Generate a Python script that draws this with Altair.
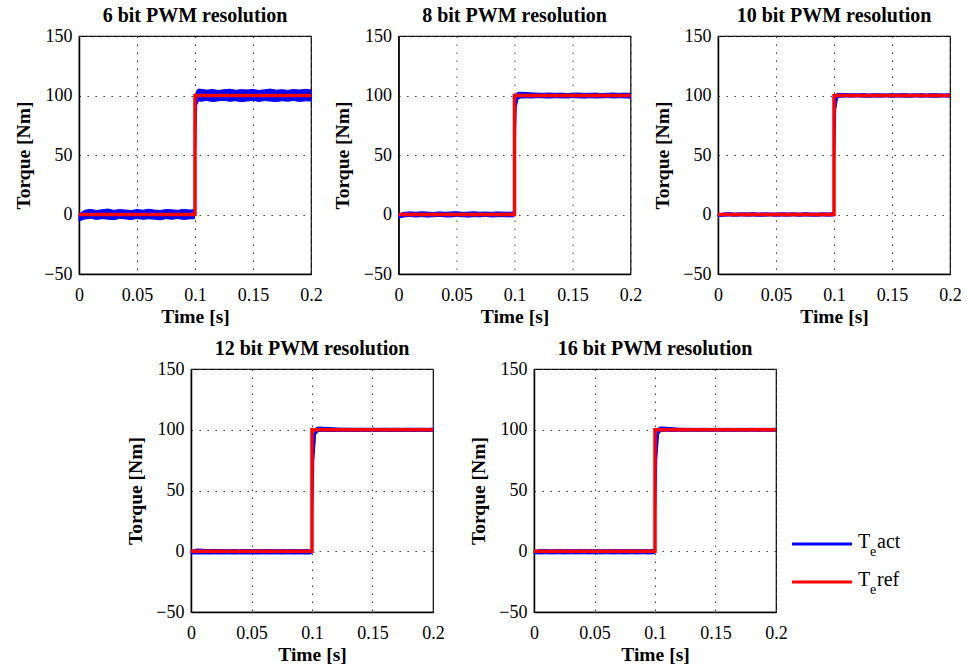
import altair as alt
import pandas as pd

FONT = "Liberation Serif"

titles = ["6 bit PWM resolution", "8 bit PWM resolution", "10 bit PWM resolution",
          "12 bit PWM resolution", "16 bit PWM resolution"]
x_ticks = [0, 0.05, 0.1, 0.15, 0.2]
y_ticks = [-50, 0, 50, 100, 150]

# sample times of the measured torque envelope [s]
t = [0.000, 0.005, 0.010, 0.015, 0.020, 0.025, 0.030, 0.035, 0.040, 0.045,
     0.050, 0.055, 0.060, 0.065, 0.070, 0.075, 0.080, 0.085, 0.090, 0.095,
     0.0995, 0.1005, 0.1015, 0.103,
     0.105, 0.110, 0.115, 0.120, 0.125, 0.130, 0.135, 0.140, 0.145, 0.150,
     0.155, 0.160, 0.165, 0.170, 0.175, 0.180, 0.185, 0.190, 0.195, 0.200]

# lower / upper envelope of T_e act [Nm] for each PWM resolution
act_lo_6 = [-5.5, -3.8, -3.2, -4.1, -3.5, -3.9, -4.4, -3.3, -3.7, -4.2, -3.4, -4.0, -3.6, -3.9, -4.5, -3.5, -4.0, -3.4, -4.1, -3.7,
            -3.6, 55.0, 92.0, 95.5,
            95.2, 95.8, 94.9, 95.5, 96.0, 95.1, 95.6, 94.8, 95.4, 95.9, 95.0, 95.7, 95.3, 94.9, 95.6, 95.2, 95.8, 95.0, 95.5, 95.3]
act_hi_6 = [0.5, 3.6, 4.3, 3.4, 4.0, 4.6, 3.5, 4.1, 3.8, 3.3, 4.2, 3.6, 4.4, 3.7, 3.4, 4.1, 3.9, 3.5, 4.3, 3.8,
            4.0, 98.0, 104.0, 105.5,
            105.2, 104.5, 105.0, 104.3, 104.8, 105.3, 104.4, 104.9, 104.6, 105.1, 104.2, 104.8, 105.4, 104.5, 104.9, 104.3, 105.0, 104.6, 105.2, 104.7]

act_lo_8 = [-3.0, -2.0, -1.7, -2.1, -1.8, -2.2, -1.9, -1.6, -2.0, -2.1, -1.7, -1.9, -2.2, -1.8, -2.0, -1.6, -2.1, -1.9, -1.8, -2.0,
            -1.9, 50.0, 90.0, 97.0,
            97.8, 98.0, 97.9, 98.2, 98.0, 97.8, 98.1, 98.0, 97.9, 98.2, 98.0, 97.8, 98.1, 97.9, 98.0, 98.2, 97.9, 98.1, 98.0, 97.8]
act_hi_8 = [0.5, 1.8, 2.2, 1.9, 2.3, 2.0, 1.7, 2.2, 1.9, 2.1, 2.4, 1.8, 2.0, 2.3, 1.9, 2.1, 1.8, 2.2, 2.0, 1.9,
            2.1, 97.0, 101.5, 102.5,
            102.8, 102.5, 102.2, 102.0, 101.9, 102.1, 101.8, 102.0, 101.7, 101.9, 102.1, 101.8, 101.9, 102.0, 101.7, 101.9, 102.1, 101.8, 102.0, 101.9]

act_lo_10 = [-1.8, -1.4, -1.3, -1.5, -1.2, -1.4, -1.3, -1.5, -1.4, -1.2, -1.5, -1.3, -1.4, -1.2, -1.5, -1.3, -1.4, -1.5, -1.2, -1.4,
             -1.3, 45.0, 88.0, 97.5,
             98.5, 98.7, 98.6, 98.8, 98.6, 98.5, 98.7, 98.6, 98.8, 98.5, 98.7, 98.6, 98.5, 98.8, 98.6, 98.7, 98.5, 98.6, 98.8, 98.6]
act_hi_10 = [0.5, 1.3, 1.5, 1.2, 1.4, 1.3, 1.5, 1.2, 1.4, 1.3, 1.2, 1.5, 1.3, 1.4, 1.2, 1.5, 1.3, 1.2, 1.4, 1.3,
             1.4, 96.0, 100.8, 101.8,
             101.8, 101.6, 101.5, 101.4, 101.6, 101.3, 101.5, 101.4, 101.3, 101.5, 101.4, 101.6, 101.3, 101.4, 101.5, 101.3, 101.6, 101.4, 101.3, 101.5]

act_lo_12 = [-2.2, -2.3, -2.2, -2.3, -2.2, -2.3, -2.2, -2.3, -2.2, -2.3, -2.2, -2.3, -2.2, -2.3, -2.2, -2.3, -2.2, -2.3, -2.2, -2.3,
             -2.2, 30.0, 75.0, 96.0,
             98.6, 98.7, 98.6, 98.7, 98.6, 98.7, 98.6, 98.7, 98.6, 98.7, 98.6, 98.7, 98.6, 98.7, 98.6, 98.7, 98.6, 98.7, 98.6, 98.7]
act_hi_12 = [0.5, 1.9, 1.6, 1.4, 1.5, 1.4, 1.3, 1.4, 1.3, 1.4, 1.3, 1.4, 1.3, 1.4, 1.3, 1.4, 1.3, 1.4, 1.3, 1.4,
             1.3, 85.0, 97.0, 101.5,
             102.2, 102.0, 101.8, 101.5, 101.3, 101.3, 101.2, 101.3, 101.2, 101.3, 101.2, 101.3, 101.2, 101.3, 101.2, 101.3, 101.2, 101.3, 101.2, 101.3]

act_lo_16 = [-2.1, -2.2, -2.1, -2.2, -2.1, -2.2, -2.1, -2.2, -2.1, -2.2, -2.1, -2.2, -2.1, -2.2, -2.1, -2.2, -2.1, -2.2, -2.1, -2.2,
             -2.1, 30.0, 76.0, 96.5,
             98.7, 98.8, 98.7, 98.8, 98.7, 98.8, 98.7, 98.8, 98.7, 98.8, 98.7, 98.8, 98.7, 98.8, 98.7, 98.8, 98.7, 98.8, 98.7, 98.8]
act_hi_16 = [0.5, 1.5, 1.3, 1.2, 1.3, 1.2, 1.3, 1.2, 1.3, 1.2, 1.3, 1.2, 1.3, 1.2, 1.3, 1.2, 1.3, 1.2, 1.3, 1.2,
             1.3, 86.0, 97.5, 101.8,
             102.3, 102.0, 101.6, 101.3, 101.2, 101.2, 101.1, 101.2, 101.1, 101.2, 101.1, 101.2, 101.1, 101.2, 101.1, 101.2, 101.1, 101.2, 101.1, 101.2]

act_lo = [act_lo_6, act_lo_8, act_lo_10, act_lo_12, act_lo_16]
act_hi = [act_hi_6, act_hi_8, act_hi_10, act_hi_12, act_hi_16]

# reference torque (step)
t_ref = [0.0, 0.1, 0.2]
ref = [0.0, 100.0, 100.0]

legend_names = ["act", "ref"]
legend_colors = ["#0000FF", "#FF0000"]

BLUE = "#0000FF"
RED = "#FF0000"

xscale = alt.Scale(domain=[0, 0.2], nice=False, zero=False)
yscale = alt.Scale(domain=[-50, 150], nice=False, zero=False)

common_axis = dict(
    grid=True, gridDash=[1.5, 6.5], gridColor="#444444", gridWidth=1,
    ticks=False, tickSize=0, labelFlush=False,
    domainColor="black", domainWidth=1.5,
    labelFont=FONT, labelFontSize=18, labelColor="black",
    titleFont=FONT, titleFontSize=19.5, titleFontWeight="bold", titleColor="black",
)

xaxis = alt.Axis(values=x_ticks, format="~g", title="Time [s]",
                 labelPadding=12, titlePadding=3, **common_axis)
yaxis = alt.Axis(values=y_ticks, format="d", title="Torque [Nm]",
                 labelPadding=7, minExtent=36, maxExtent=36, titlePadding=10,
                 **common_axis)


def panel(i, w, h, with_legend=False):
    df = pd.DataFrame({"t": t, "lo": act_lo[i], "hi": act_hi[i]})
    dref = pd.DataFrame({"t": t_ref, "v": ref})
    area = alt.Chart(df).mark_area(color=BLUE, stroke=BLUE, strokeWidth=1, opacity=1).encode(
        x=alt.X("t:Q", scale=xscale, axis=xaxis),
        y=alt.Y("lo:Q", scale=yscale, axis=yaxis),
        y2="hi:Q",
    )
    line = alt.Chart(dref).mark_line(color=RED, strokeWidth=3.5, interpolate="step-after").encode(
        x=alt.X("t:Q", scale=xscale),
        y=alt.Y("v:Q", scale=yscale),
    )
    layers = [area, line]
    if with_legend:
        for k, (name, col) in enumerate(zip(legend_names, legend_colors)):
            yy = 175 + 38 * k
            ld = pd.DataFrame({"name": [name]})
            layers.append(alt.Chart(ld).mark_rule(color=col, strokeWidth=3).encode(
                x=alt.value(258), x2=alt.value(318), y=alt.value(yy)))
            layers.append(alt.Chart(ld).mark_text(font=FONT, fontSize=20, align="left",
                                                  baseline="alphabetic", color="black").encode(
                x=alt.value(324), y=alt.value(yy + 4), text=alt.value("T")))
            layers.append(alt.Chart(ld).mark_text(font=FONT, fontSize=14, align="left",
                                                  baseline="alphabetic", color="black").encode(
                x=alt.value(336), y=alt.value(yy + 12), text=alt.value("e")))
            layers.append(alt.Chart(ld).mark_text(font=FONT, fontSize=20, align="left",
                                                  baseline="alphabetic", color="black").encode(
                x=alt.value(343), y=alt.value(yy + 4), text="name:N"))
    return alt.layer(*layers).properties(
        width=w, height=h,
        title=alt.TitleParams(titles[i], font=FONT, fontSize=20, fontWeight="bold",
                              color="black", anchor="middle", frame="group",
                              baseline="alphabetic", offset=-15),
    )


spacer = alt.Chart(pd.DataFrame({"a": [0]})).mark_rule(opacity=0, strokeWidth=0).encode(
    x=alt.value(0), x2=alt.value(22), y=alt.value(0)
).properties(width=22, height=10, view=alt.ViewBackground(stroke="transparent"))

row1 = alt.hconcat(panel(0, 232, 238), panel(1, 232, 238), panel(2, 232, 238), spacing=8.5)
row2 = alt.hconcat(spacer, panel(3, 242, 243), panel(4, 242, 243, with_legend=True), spacing=22)

chart = alt.vconcat(row1, row2, spacing=11).properties(
    padding={"left": 12, "top": 5, "right": 5, "bottom": 5},
    background="white",
).configure_view(stroke="black", strokeWidth=1.2)

chart.save("out.html", embed_options={"renderer": "svg", "actions": False})
